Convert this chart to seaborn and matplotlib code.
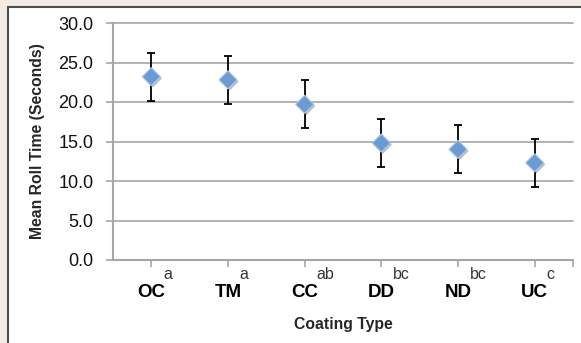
import matplotlib
matplotlib.use("Agg")
import matplotlib.pyplot as plt
import matplotlib.patheffects as pe
from matplotlib.patches import Rectangle
from matplotlib.ticker import FixedLocator, FormatStrFormatter
import seaborn as sns
import pandas as pd

# ---- data ----
coatings = ["OC", "TM", "CC", "DD", "ND", "UC"]
mean_roll_time = [23.2, 22.8, 19.7, 14.8, 14.0, 12.3]
error = [3.05, 3.05, 3.05, 3.05, 3.05, 3.05]
group_letters = ["a", "a", "ab", "bc", "bc", "c"]
y_ticks = [0, 5, 10, 15, 20, 25, 30]

df = pd.DataFrame({"coating": coatings, "mean": mean_roll_time, "err": error})

sns.set_theme(style="white")
plt.rcParams["font.family"] = ["Liberation Sans", "DejaVu Sans"]

W, H = 581, 343
fig = plt.figure(figsize=(W / 100, H / 100), dpi=100)
fig.patch.set_facecolor("#f2ebe6")
fig.patches.append(Rectangle((8 / W, -0.1), 1.2, (343 - 7) / H + 0.1,
                             transform=fig.transFigure, facecolor="white",
                             edgecolor="#4d4d4d", lw=1.5, zorder=-5))

ax = fig.add_axes([113 / W, (H - 260) / H, 460 / W, (260 - 23) / H])
ax.set_facecolor("none")
ax.set_zorder(2)

grid_c = "#a6a6a6"
ax.errorbar(df["coating"], df["mean"], yerr=df["err"], fmt="none",
            ecolor="black", elinewidth=1.3, capsize=3, capthick=1.3, zorder=3)
sns.scatterplot(data=df, x="coating", y="mean", marker="D", s=85,
                color="#6b9bd4", edgecolor="#a9c6e8", linewidth=0.8,
                ax=ax, zorder=4, legend=False)
ax.collections[-1].set_path_effects([pe.SimplePatchShadow(offset=(1.2, -1.2), alpha=0.3),
                                     pe.Normal()])

ax.set_xlim(-0.5, len(coatings) - 0.5)
ax.set_ylim(y_ticks[0], y_ticks[-1])
ax.yaxis.set_major_locator(FixedLocator(y_ticks))
ax.yaxis.set_major_formatter(FormatStrFormatter("%.1f"))
ax.yaxis.grid(True, color=grid_c, lw=1.2)
ax.set_axisbelow(True)
for gl in ax.yaxis.get_gridlines():
    gl.set_clip_on(False)

ax.xaxis.set_minor_locator(FixedLocator([len(coatings) - 0.5]))
ax.tick_params(axis="x", which="both", direction="out", length=5, width=1.2,
               color=grid_c, bottom=True)
ax.tick_params(axis="x", which="major", pad=12, labelsize=13.5)
ax.tick_params(axis="y", direction="out", length=5, width=1.2, color=grid_c,
               left=True, pad=9, labelsize=13, labelcolor="#111111")
for lbl in ax.get_xticklabels():
    lbl.set_fontweight("bold")
    lbl.set_color("black")

for s in ["top", "right"]:
    ax.spines[s].set_visible(False)
for s in ["left", "bottom"]:
    ax.spines[s].set_color(grid_c)
    ax.spines[s].set_linewidth(1.5)

ax.set_xlabel("")
ax.set_ylabel("")
fig.text(38 / W, 1 - 141.5 / H, "Mean Roll Time (Seconds)", rotation=90,
         ha="center", va="center", fontsize=11.3, fontweight="bold")
fig.text(343 / W, 1 - 324 / H, "Coating Type", ha="center", va="center",
         fontsize=11.3, fontweight="bold")

# significance letters next to tick labels
fig.canvas.draw()
renderer = fig.canvas.get_renderer()
for lbl, letter in zip(ax.get_xticklabels(), group_letters):
    bb = lbl.get_window_extent(renderer)
    fig.text((bb.x1 - 2) / W, (H - 279.3) / H, letter, ha="left",
             va="baseline", fontsize=11.5, color="#333333")

fig.savefig("out.png", dpi=100, facecolor=fig.get_facecolor())
